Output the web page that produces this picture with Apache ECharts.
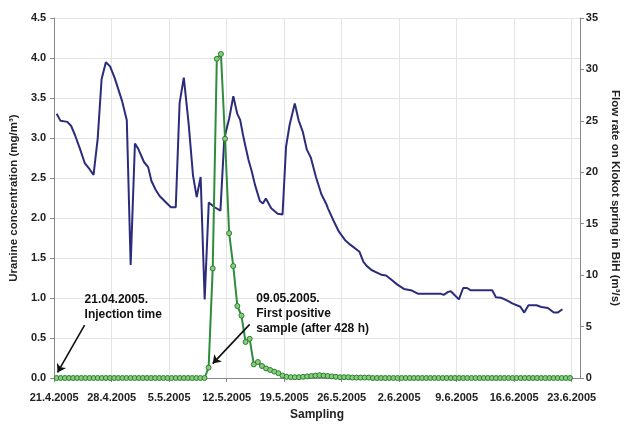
<!DOCTYPE html>
<html>
<head>
<meta charset="utf-8">
<script src="https://cdn.jsdelivr.net/npm/echarts@6/dist/echarts.min.js"></script>
<style>
html,body{margin:0;padding:0;background:#fff;}
#c{width:629px;height:426px;}
</style>
</head>
<body>
<div id="c"></div>
<script>
// X tick labels (one per week; day 0 = 21.4.2005)
const tickLabels = ['21.4.2005','28.4.2005','5.5.2005','12.5.2005','19.5.2005','26.5.2005','2.6.2005','9.6.2005','16.6.2005','23.6.2005'];

// Flow rate (m3/s) on Klokot spring: days since 21.4.2005 and values
const flowDays = [0.30,0.77,1.60,2.07,2.54,3.13,3.72,4.31,4.79,5.30,5.77,6.29,6.80,7.35,8.25,8.84,9.31,9.83,10.22,10.93,11.44,11.84,12.35,12.83,13.62,14.21,14.80,15.27,15.78,16.37,16.90,17.35,17.83,18.32,18.82,19.53,20.24,20.71,21.30,21.81,22.28,22.64,23.07,23.66,24.05,24.44,25.04,25.41,25.77,26.42,27.21,27.80,28.23,28.66,29.29,29.76,30.28,30.76,31.26,31.86,32.53,33.10,33.33,34.04,34.69,35.42,36.08,37.17,37.65,38.04,38.63,39.42,39.81,40.40,40.99,41.78,42.58,43.56,44.27,45.53,47.10,47.42,47.97,48.29,49.27,49.79,50.26,50.73,53.33,53.78,54.40,55.06,55.77,56.76,57.23,57.74,58.72,59.31,60.11,60.82,61.29,61.88];
const flowRates = [25.7,25.0,24.9,24.5,23.6,22.3,20.9,20.3,19.75,23.3,29.05,30.7,30.3,29.2,26.97,25.05,11.0,22.8,22.3,21.0,20.5,19.15,18.3,17.7,17.07,16.6,16.6,26.75,29.2,24.7,19.7,17.6,19.55,7.64,17.07,16.6,16.27,23.3,25.2,27.4,25.7,25.1,23.3,21.2,20.1,18.8,17.2,16.97,17.45,16.5,15.96,15.9,22.5,24.6,26.7,25.05,23.9,22.2,21.4,19.56,17.86,16.97,16.5,15.24,14.2,13.4,12.94,12.27,11.3,10.9,10.5,10.2,10.04,9.97,9.6,9.08,8.66,8.5,8.2,8.2,8.18,8.08,8.37,8.44,7.64,8.75,8.75,8.53,8.53,7.86,7.8,7.57,7.26,6.93,6.36,7.07,7.07,6.9,6.8,6.36,6.36,6.68];

// Uranine concentration (mg/m3), one sample every 12 h
const sampleStartDay = 0.3;
const sampleStepDays = 0.5;
const uranine = [
  0,0,0,0,0,0,0,0,0,0, 0,0,0,0,0,0,0,0,0,0,
  0,0,0,0,0,0,0,0,0,0, 0,0,0,0,0,0,0,
  0.13,1.37,3.99,4.05,2.99,1.81,1.40,0.90,0.78,0.45,0.49,0.17,0.20,0.15,0.12,0.10,0.08,0.06,0.03,0.015,0.01,
  0.01,0.01,0.015,0.02,0.025,0.03,0.035,0.03,0.025,0.02,0.015,0.01,0.01,0.01,
  0.005,0.005,0.005,0.005,0.005,
  0,0,0,0,0,0,0,0,0,0, 0,0,0,0,0,0,0,0,0,0,
  0,0,0,0,0,0,0,0,0,0, 0,0,0,0,0,0,0,0,0,0,
  0,0,0,0,0,0,0,0,0
];

const flowData = flowDays.map((d, i) => [d, flowRates[i]]);
const uranineData = uranine.map((v, i) => [sampleStartDay + i * sampleStepDays, v]);

const FONT = '"Liberation Sans", Arial, sans-serif';
const chart = echarts.init(document.getElementById('c'), null, {renderer: 'canvas'});

const axisLabelStyle = {color: '#222', fontWeight: 'bold', fontSize: 11, fontFamily: FONT};

chart.setOption({
  animation: false,
  backgroundColor: '#fff',
  grid: {left: 52, right: 35, top: 18, bottom: 43, containLabel: false},
  xAxis: {
    type: 'value', min: 0, max: 64, interval: 7,
    name: 'Sampling', nameLocation: 'middle', nameGap: 31,
    nameTextStyle: {color: '#222', fontWeight: 'bold', fontSize: 12, fontFamily: FONT},
    axisLine: {show: true, lineStyle: {color: '#888', width: 1}},
    axisTick: {show: true, length: 4, lineStyle: {color: '#888'}},
    axisLabel: Object.assign({}, axisLabelStyle, {
      margin: 14, showMaxLabel: false,
      formatter: v => (Math.abs(v / 7 - Math.round(v / 7)) < 1e-6 ? (tickLabels[Math.round(v / 7)] || '') : '')
    }),
    splitLine: {show: true, lineStyle: {color: '#e4e4e4', width: 1}}
  },
  yAxis: [{
    type: 'value', min: 0, max: 4.5, interval: 0.5, position: 'left',
    name: 'Uranine concentration (mg/m³)', nameLocation: 'middle', nameGap: 31, nameRotate: 90,
    nameTextStyle: {color: '#222', fontWeight: 'bold', fontSize: 11.5, fontFamily: FONT},
    axisLine: {show: true, lineStyle: {color: '#888', width: 1}},
    axisTick: {show: true, length: 4, lineStyle: {color: '#888'}},
    axisLabel: Object.assign({}, axisLabelStyle, {margin: 8, formatter: v => v.toFixed(1)}),
    splitLine: {show: true, lineStyle: {color: '#e4e4e4', width: 1}}
  }, {
    type: 'value', min: 0, max: 35, interval: 5, position: 'right',
    name: 'Flow rate on Klokot spring in BiH (m³/s)', nameLocation: 'middle', nameGap: 24, nameRotate: -90,
    nameTextStyle: {color: '#222', fontWeight: 'bold', fontSize: 11.5, fontFamily: FONT},
    axisLine: {show: true, lineStyle: {color: '#888', width: 1}},
    axisTick: {show: true, length: 4, lineStyle: {color: '#888'}},
    axisLabel: Object.assign({}, axisLabelStyle, {margin: 6}),
    splitLine: {show: false}
  }],
  series: [{
    name: 'Flow', type: 'line', yAxisIndex: 1, data: flowData,
    showSymbol: false, symbol: 'none', z: 2,
    lineStyle: {color: '#2b2d7c', width: 2}
  }, {
    name: 'Uranine', type: 'line', yAxisIndex: 0, data: uranineData,
    symbol: 'circle', symbolSize: 5, z: 3,
    lineStyle: {color: '#2f8c3c', width: 2},
    itemStyle: {color: '#86cf7a', borderColor: '#2f7d35', borderWidth: 1},
    markLine: {
      silent: true, animation: false,
      symbol: ['none', 'arrow'], symbolSize: 8,
      lineStyle: {color: '#111', width: 1.6, type: 'solid'},
      label: {show: false},
      data: [
        [{coord: [3.7, 0.66]}, {coord: [0.41, 0.07]}],
        [{coord: [23.8, 0.67]}, {coord: [19.3, 0.18]}]
      ]
    }
  }]
});

const p1 = chart.convertToPixel({xAxisIndex: 0, yAxisIndex: 0}, [3.7, 1.07]);
const p2 = chart.convertToPixel({xAxisIndex: 0, yAxisIndex: 0}, [24.6, 1.08]);
const textStyle = {fill: '#111', font: 'bold 12px ' + FONT, lineHeight: 15};
chart.setOption({
  graphic: [
    {type: 'text', left: p1[0], top: p1[1], style: Object.assign({text: '21.04.2005.\nInjection time'}, textStyle)},
    {type: 'text', left: p2[0], top: p2[1], style: Object.assign({text: '09.05.2005.\nFirst positive\nsample (after 428 h)'}, textStyle)}
  ]
});
</script>
</body>
</html>
